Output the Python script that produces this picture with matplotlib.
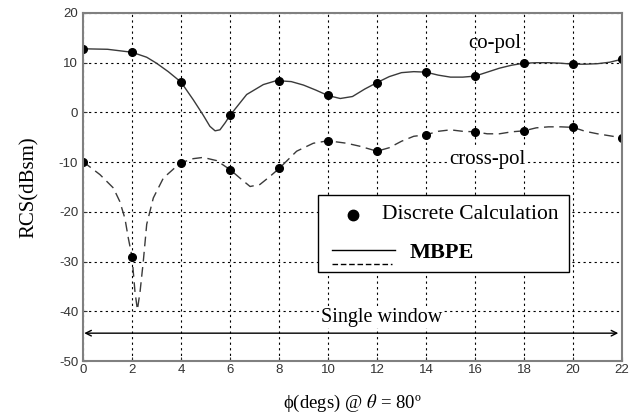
import matplotlib.pyplot as plt
from matplotlib.lines import Line2D
from matplotlib.patches import Rectangle

# discrete calculation points (every 2 degrees)
phi_pts = [0, 2, 4, 6, 8, 10, 12, 14, 16, 18, 20, 22]
co_pts = [12.7, 12.1, 6.1, -0.6, 6.3, 3.5, 6.0, 8.1, 7.4, 9.9, 9.7, 10.7]
cross_pts = [-10.0, -29.0, -10.1, -11.5, -11.2, -5.7, -7.8, -4.5, -3.9, -3.7, -3.0, -5.1]

# MBPE curves
co_phi = [0, 1, 2, 2.6, 3, 3.48, 4, 4.5, 4.9, 5.18, 5.39, 5.59, 5.8, 6, 6.34,
          6.68, 7.36, 7.9, 8.5, 9, 9.5, 10, 10.5, 11, 11.5, 12, 12.5, 13,
          13.5, 14, 14.5, 15, 15.5, 16, 16.5, 17, 17.5, 18, 18.5, 19, 19.5,
          20, 20.5, 21, 21.5, 22]
co_mbpe = [12.8, 12.7, 12.1, 11.1, 9.9, 8.2, 6.1, 2.55, -0.5, -2.8, -3.7,
           -3.5, -2.1, -0.6, 1.5, 3.6, 5.6, 6.4, 6.2, 5.5, 4.5, 3.4, 2.8, 3.2,
           4.7, 6.0, 7.2, 8.0, 8.2, 8.1, 7.5, 7.1, 7.1, 7.3, 8.1, 8.9, 9.5,
           9.9, 10.0, 10.0, 9.9, 9.7, 9.7, 9.8, 10.1, 10.7]
cross_phi = [0, 0.69, 1.24, 1.5, 1.71, 1.85, 2, 2.12, 2.22, 2.33, 2.46, 2.6,
             2.87, 3.28, 3.96, 4.5, 4.9, 5.46, 6, 6.5, 6.82, 7.22, 7.6, 8,
             8.72, 9.4, 10, 10.76, 11.3, 12, 12.5, 13, 13.5, 14, 14.5, 15,
             15.5, 16, 16.5, 17, 17.5, 18, 18.5, 19, 19.5, 20, 20.5, 21, 21.5, 22]
cross_mbpe = [-9.9, -12.5, -15.2, -17.9, -21.3, -25.3, -29.0, -36.0, -39.7,
              -36.0, -30.0, -22.5, -17.2, -13.2, -10.2, -9.3, -9.05, -9.7,
              -11.5, -13.6, -14.9, -14.5, -13.0, -11.3, -7.8, -6.2, -5.7, -6.2,
              -6.8, -7.8, -7.1, -5.8, -4.8, -4.5, -3.8, -3.5, -3.8, -3.9, -4.3,
              -4.3, -3.9, -3.7, -3.1, -2.9, -2.9, -3.0, -3.8, -4.3, -4.7, -5.1]

serif = ['Liberation Serif', 'DejaVu Serif']
plt.rcParams['mathtext.fontset'] = 'stix'
plt.rcParams['axes.unicode_minus'] = False

fig = plt.figure(figsize=(6.42, 4.15), dpi=100)
ax = fig.add_axes([0.1293, 0.1301, 0.8395, 0.8386])

ax.plot(co_phi, co_mbpe, color='#3a3a3a', lw=1.0)
ax.plot(cross_phi, cross_mbpe, color='#3a3a3a', lw=1.0, dashes=(7, 4))
ax.plot(phi_pts, co_pts, 'o', color='black', ms=5.5)
ax.plot(phi_pts, cross_pts, 'o', color='black', ms=5.5)

ax.set_xlim(0, 22)
ax.set_ylim(-50, 20)
ax.set_xticks(range(0, 23, 2))
ax.set_yticks(range(-50, 21, 10))
ax.grid(True, color='black', lw=0.8, ls=(0, (2, 3)))
ax.tick_params(direction='in', length=3, labelsize=9.5, colors='#333333',
               labelfontfamily='Liberation Sans')
ax.tick_params(axis='x', pad=2)
for s in ax.spines.values():
    s.set_color('#808080')
    s.set_linewidth(1.5)

ax.set_ylabel('RCS(dBsm)', fontsize=15, family=serif, labelpad=14)
ax.set_xlabel('ϕ(degs) @ $\\theta$ = 80º', fontsize=13.5, family=serif, labelpad=12)

ax.text(16.8, 13.8, 'co-pol', fontsize=15, family=serif, ha='center', va='center')
ax.text(16.5, -9.4, 'cross-pol', fontsize=15, family=serif, ha='center', va='center',
        bbox=dict(facecolor='white', edgecolor='none', pad=1))

# single window arrow
ax.annotate('', xy=(0.05, -44.4), xytext=(21.85, -44.4),
            arrowprops=dict(arrowstyle='<->', color='black', lw=1.0,
                            shrinkA=0, shrinkB=0))
ax.text(9.7, -41.2, 'Single window', fontsize=14.5, family=serif, ha='left', va='center',
        bbox=dict(facecolor='white', edgecolor='none', pad=1))

# legend box drawn by hand
ax.add_patch(Rectangle((9.6, -32.0), 10.25, 15.4, facecolor='white',
                       edgecolor='black', lw=1.0, zorder=5))
ax.add_line(Line2D([11.03], [-20.6], marker='o', color='black', ms=7.5, zorder=6))
ax.text(12.2, -20.6, 'Discrete Calculation', fontsize=15.5, family=serif,
        ha='left', va='center', zorder=6)
ax.add_line(Line2D([10.15, 12.75], [-27.6, -27.6], color='black', lw=1.0, zorder=6))
ax.add_line(Line2D([10.15, 12.6], [-30.4, -30.4], color='black', lw=1.0,
                   dashes=(4, 2), zorder=6))
ax.text(13.35, -28.2, 'MBPE', fontsize=16, family=serif, weight='bold',
        ha='left', va='center', zorder=6)

fig.savefig('out.png', dpi=100)
